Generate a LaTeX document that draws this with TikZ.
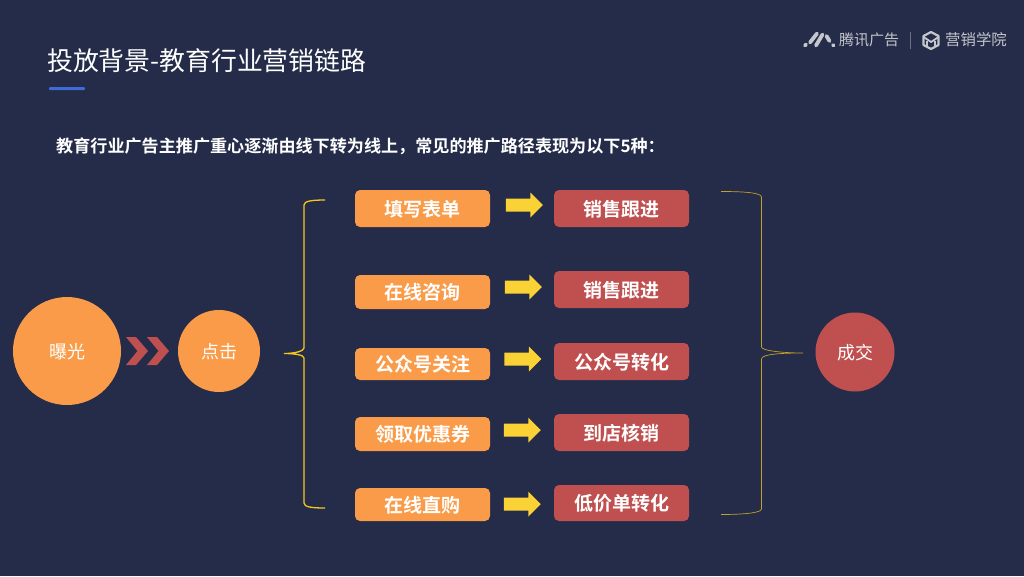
\documentclass[tikz,border=0pt]{standalone}
\usepackage{fontspec}
\setmainfont{Noto Sans CJK SC}[BoldFont={Noto Sans CJK SC Bold}]
\usepackage{xcolor}
\usetikzlibrary{shapes.arrows, arrows.meta, positioning, calc}
\definecolor{bgnavy}{HTML}{242C49}
\definecolor{boxorange}{HTML}{F99B48}
\definecolor{boxred}{HTML}{C0504F}
\definecolor{arrowyellow}{HTML}{FBD235}
\definecolor{bracegold}{HTML}{F6C81E}
\definecolor{logogray}{HTML}{C4C6CC}
\definecolor{rulesblue}{HTML}{3F6AD8}
\tikzstyle{source}  = [circle, fill=boxorange, text=white, font=\fontsize{18}{18}\selectfont,
                        text height=17pt, text depth=1.5pt, inner sep=0pt]
\tikzstyle{deal}    = [circle, fill=boxred, text=white, font=\fontsize{18}{18}\selectfont,
                        text height=17pt, text depth=1.5pt, inner sep=0pt]
\tikzstyle{channel} = [rectangle, fill=boxorange, text=white, minimum width=135pt,
                        font=\fontsize{19}{19}\selectfont\bfseries, text height=17pt, text depth=1.5pt,
                        rounded corners=5pt, inner sep=0pt]
\tikzstyle{follow}  = [rectangle, fill=boxred, text=white, minimum width=135pt,
                        font=\fontsize{19}{19}\selectfont\bfseries, text height=17pt, text depth=1.5pt,
                        rounded corners=5pt, inner sep=0pt]
\tikzstyle{step arrow} = [single arrow, fill=arrowyellow, minimum height=37pt, inner xsep=0pt, inner ysep=6.3pt,
                        single arrow head extend=6pt, single arrow tip angle=90]
\tikzstyle{brand}   = [text=logogray, font=\fontsize{15}{15}\selectfont, inner sep=0pt]

\begin{document}
\begin{tikzpicture}[x=1pt, y=-1pt]
  \useasboundingbox[fill=bgnavy] (0,0) rectangle (1024,576);

  % heading
  \node[text=white, font=\fontsize{25.85}{26}\selectfont, anchor=west, inner sep=0pt] (title) at (47,61) {投放背景-教育行业营销链路};
  \fill[rulesblue, rounded corners=1pt] (49,87) rectangle (85,90);
  \node[text=white, font=\fontsize{17.1}{17}\selectfont\bfseries, anchor=west, inner sep=0pt] (lead) at (56,146) {教育行业广告主推广重心逐渐由线下转为线上，常见的推广路径表现为以下5种：};

  % logo
  \foreach \xa/\ya/\xb/\yb in {805/45.5/806/44.5, 810/42.5/817/33.5, 816/45.5/822.5/34.5, 826.5/36/829.5/41, 833/45/833.5/45.5}
    \draw[logogray, line width=3.8pt, line cap=round] (\xa,\ya) -- (\xb,\yb);
  \node[brand, anchor=west] (tencent) at (839,40) {腾讯广告};
  \draw[logogray!45!bgnavy, line width=0.8pt] (910,32) -- (910,49);
  \draw[logogray, line width=2.2pt, line join=round] (931,32) -- (938.5,36) -- (938.5,45) -- (931,49) -- (923.5,45) -- (923.5,36) -- cycle;
  \draw[logogray, line width=1.8pt, line join=round] (923.5,37) -- (931,42) -- (938.5,37);
  \draw[logogray, line width=1.8pt] (927,41) -- (927,47) (935,41) -- (935,47);
  \node[brand, anchor=west, font=\fontsize{15.4}{15}\selectfont] (academy) at (945,40) {营销学院};

  % funnel
  \node[source, minimum size=108pt] (expose) at (67,351) {曝光};
  \node[source, minimum size=82pt] (click) at (219,351) {点击};
  \node[deal, minimum size=79pt] (deal) at (855,352) {成交};
  \foreach \x in {126,147}
    \fill[boxred] (\x,337) -- (\x+10,337) -- (\x+22,351) -- (\x+10,365) -- (\x,365) -- (\x+11.5,351) -- cycle;

  \node[channel, minimum height=37pt] (c1) at (422.5,208.5) {填写表单};
  \node[channel, minimum height=34pt] (c2) at (422.5,292) {在线咨询};
  \node[channel, minimum height=32pt] (c3) at (422.5,364) {公众号关注};
  \node[channel, minimum height=34pt] (c4) at (422.5,434) {领取优惠券};
  \node[channel, minimum height=33pt] (c5) at (422.5,504.5) {在线直购};

  \node[follow, minimum height=37pt] (f1) at (621.5,208.5) {销售跟进};
  \node[follow, minimum height=37pt] (f2) at (621.5,289.5) {销售跟进};
  \node[follow, minimum height=37pt] (f3) at (621.5,361.5) {公众号转化};
  \node[follow, minimum height=37pt] (f4) at (621.5,432.5) {到店核销};
  \node[follow, minimum height=36pt] (f5) at (621.5,503) {低价单转化};

  \node[step arrow] (a1) at (521,205) {};
  \node[step arrow] (a2) at (520,287) {};
  \node[step arrow] (a3) at (519.5,359) {};
  \node[step arrow] (a4) at (519,430) {};
  \node[step arrow] (a5) at (519,504) {};

  % braces
  \coordinate (lt) at (325,200);
  \coordinate (lm) at (284,353.5);
  \coordinate (lb) at (325,508);
  \draw[bracegold, line width=1.3pt] (lt) .. controls (312,200) and (304,201) .. (304,205)
    -- (304,348) .. controls (304,351) and (295,353.5) .. (lm)
    .. controls (295,353.5) and (304,355) .. (304,358) -- (304,503)
    .. controls (304,507) and (312,508) .. (lb);
  \coordinate (rt) at (721,191.5);
  \coordinate (rm) at (803,353);
  \coordinate (rb) at (721,514.5);
  \draw[bracegold!75!bgnavy, line width=0.7pt] (rt) .. controls (742,191.5) and (761.5,192.5) .. (761.5,197)
    -- (761.5,347) .. controls (761.5,350.5) and (782,353) .. (rm)
    .. controls (782,353) and (761.5,354) .. (761.5,359) -- (761.5,509)
    .. controls (761.5,513) and (742,514.5) .. (rb);
\end{tikzpicture}
\end{document}
